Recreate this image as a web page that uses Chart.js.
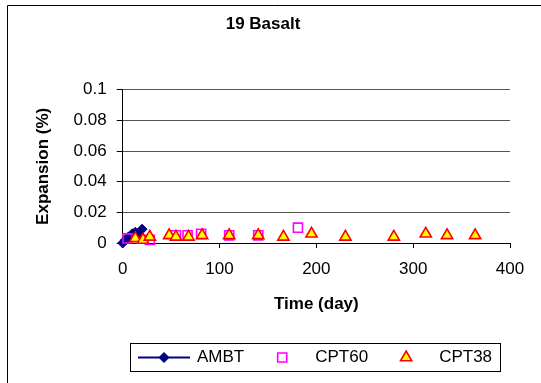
<!DOCTYPE html>
<html>
<head>
<meta charset="utf-8">
<script src="https://cdn.jsdelivr.net/npm/chart.js@4.4.0/dist/chart.umd.min.js"></script>
<style>
  html, body { margin: 0; padding: 0; background: #fff; }
  #wrap { width: 541px; height: 383px; }
</style>
</head>
<body>
<div id="wrap"><canvas id="basaltChart" width="541" height="383"></canvas></div>
<script>
// --- data ---
const ambtDays = [0, 3, 6, 10, 13, 16, 20];
const ambtExp = [0, 0.002, 0.004, 0.006, 0.007, 0.006, 0.009];

const cpt60Days = [5, 28, 55, 67, 81, 110, 140, 181];
const cpt60Exp = [0.003, 0.002, 0.005, 0.005, 0.006, 0.005, 0.005, 0.010];

const cpt38Days = [13, 21, 28, 48, 55, 68, 82, 110, 140, 166, 195, 230, 280, 313, 335, 364];
const cpt38Exp = [0.003, 0.002, 0.004, 0.005, 0.004, 0.004, 0.005, 0.005, 0.005, 0.004, 0.006, 0.004, 0.004, 0.006, 0.005, 0.005];

const xTicks = [0, 100, 200, 300, 400];
const yTicks = [0, 0.02, 0.04, 0.06, 0.08, 0.1];

const FONT = '"Liberation Sans", Arial, sans-serif';

const toPoints = (xs, ys) => xs.map((x, i) => ({ x: x, y: ys[i] }));

// outer frame (only left and top edges fall inside the picture)
const framePlugin = {
    id: 'frame',
    beforeDraw(chart) {
        const ctx = chart.ctx;
        ctx.save();
        ctx.fillStyle = '#fff';
        ctx.fillRect(0, 0, chart.width, chart.height);
        ctx.strokeStyle = '#000';
        ctx.lineWidth = 1;
        ctx.beginPath();
        ctx.moveTo(7.5, chart.height);
        ctx.lineTo(7.5, 5.5);
        ctx.lineTo(chart.width, 5.5);
        ctx.stroke();
        ctx.restore();
    }
};

// boxed legend like the Excel one
const boxLegend = {
    id: 'boxLegend',
    afterDraw(chart) {
        const ctx = chart.ctx;
        const ds = chart.data.datasets;
        ctx.save();
        ctx.font = '17px ' + FONT;
        const symW = 52, gap = 7, space = 12, padX = 8;
        const widths = ds.map(d => symW + gap + ctx.measureText(d.label).width);
        const total = widths.reduce((a, b) => a + b, 0) + space * (ds.length - 1) + padX * 2;
        const cx = 315, top = 343, h = 28;
        const left = Math.round(cx - total / 2);
        ctx.fillStyle = '#fff';
        ctx.fillRect(left, top, total, h);
        ctx.strokeStyle = '#000';
        ctx.lineWidth = 1;
        ctx.strokeRect(left + 0.5, top + 0.5, Math.round(total), h);

        let x = left + padX;
        const y = top + h / 2 + 0.5;
        ds.forEach((d, i) => {
            if (d.showLine) {
                ctx.strokeStyle = d.borderColor;
                ctx.lineWidth = d.borderWidth;
                ctx.beginPath();
                ctx.moveTo(x, y);
                ctx.lineTo(x + symW, y);
                ctx.stroke();
            }
            ctx.fillStyle = d.pointBackgroundColor;
            ctx.strokeStyle = d.pointBorderColor;
            ctx.lineWidth = d.pointBorderWidth;
            Chart.helpers.drawPoint(ctx, {
                pointStyle: d.pointStyle,
                radius: d.pointRadius,
                borderWidth: d.pointBorderWidth,
                rotation: 0
            }, x + symW / 2, y);
            ctx.fillStyle = '#000';
            ctx.textBaseline = 'middle';
            ctx.textAlign = 'left';
            ctx.fillText(d.label, x + symW + gap, y);
            x += widths[i] + space;
        });
        ctx.restore();
    }
};

const ctx = document.getElementById('basaltChart').getContext('2d');

new Chart(ctx, {
    type: 'scatter',
    data: {
        datasets: [
            {
                label: 'AMBT',
                data: toPoints(ambtDays, ambtExp),
                showLine: true,
                clip: false,
                borderColor: '#000080',
                borderWidth: 2,
                pointStyle: 'rectRot',
                pointRadius: 5,
                pointBackgroundColor: '#000080',
                pointBorderColor: '#000080',
                pointBorderWidth: 1,
                order: 3
            },
            {
                label: 'CPT60',
                data: toPoints(cpt60Days, cpt60Exp),
                showLine: false,
                clip: false,
                pointStyle: 'rect',
                pointRadius: 6.4,
                pointBackgroundColor: 'rgba(0,0,0,0)',
                pointBorderColor: '#ff00ff',
                pointBorderWidth: 1.6,
                order: 2
            },
            {
                label: 'CPT38',
                data: toPoints(cpt38Days, cpt38Exp),
                showLine: false,
                clip: false,
                pointStyle: 'triangle',
                pointRadius: 6.5,
                pointBackgroundColor: '#ffff00',
                pointBorderColor: '#ff0000',
                pointBorderWidth: 1.6,
                order: 1
            }
        ]
    },
    options: {
        responsive: false,
        animation: false,
        devicePixelRatio: 1,
        layout: {
            padding: { left: 16, right: 31, top: 0, bottom: 68.8 }
        },
        plugins: {
            legend: { display: false },
            tooltip: { enabled: false },
            title: {
                display: true,
                text: '19 Basalt',
                color: '#000',
                font: { family: FONT, size: 17, weight: 'bold' },
                padding: { top: 14, bottom: 55.3 }
            }
        },
        scales: {
            x: {
                type: 'linear',
                min: xTicks[0],
                max: xTicks[xTicks.length - 1],
                afterBuildTicks: (scale) => { scale.ticks = xTicks.map(v => ({ value: v })); },
                afterFit: (scale) => { scale.height = 71.2; },
                ticks: {
                    color: '#000',
                    padding: 11,
                    font: { family: FONT, size: 17 }
                },
                grid: {
                    drawOnChartArea: false,
                    drawTicks: true,
                    tickLength: 5,
                    tickColor: '#000'
                },
                border: { color: '#000', width: 1 },
                title: {
                    display: true,
                    text: 'Time (day)',
                    color: '#000',
                    font: { family: FONT, size: 17, weight: 'bold' },
                    padding: { top: 0, bottom: 0 }
                }
            },
            y: {
                type: 'linear',
                min: yTicks[0],
                max: yTicks[yTicks.length - 1],
                afterBuildTicks: (scale) => { scale.ticks = yTicks.map(v => ({ value: v })); },
                afterFit: (scale) => { scale.width = 106.7; },
                ticks: {
                    color: '#000',
                    padding: 10,
                    font: { family: FONT, size: 17 },
                    callback: (v) => String(+v.toFixed(2))
                },
                grid: {
                    color: '#555',
                    lineWidth: 1,
                    tickLength: 6,
                    tickColor: '#000'
                },
                border: { color: '#000', width: 1 },
                title: {
                    display: true,
                    text: 'Expansion (%)',
                    color: '#000',
                    font: { family: FONT, size: 17, weight: 'bold' },
                    padding: { top: 17, bottom: 0 }
                }
            }
        }
    },
    plugins: [framePlugin, boxLegend]
});
</script>
</body>
</html>
